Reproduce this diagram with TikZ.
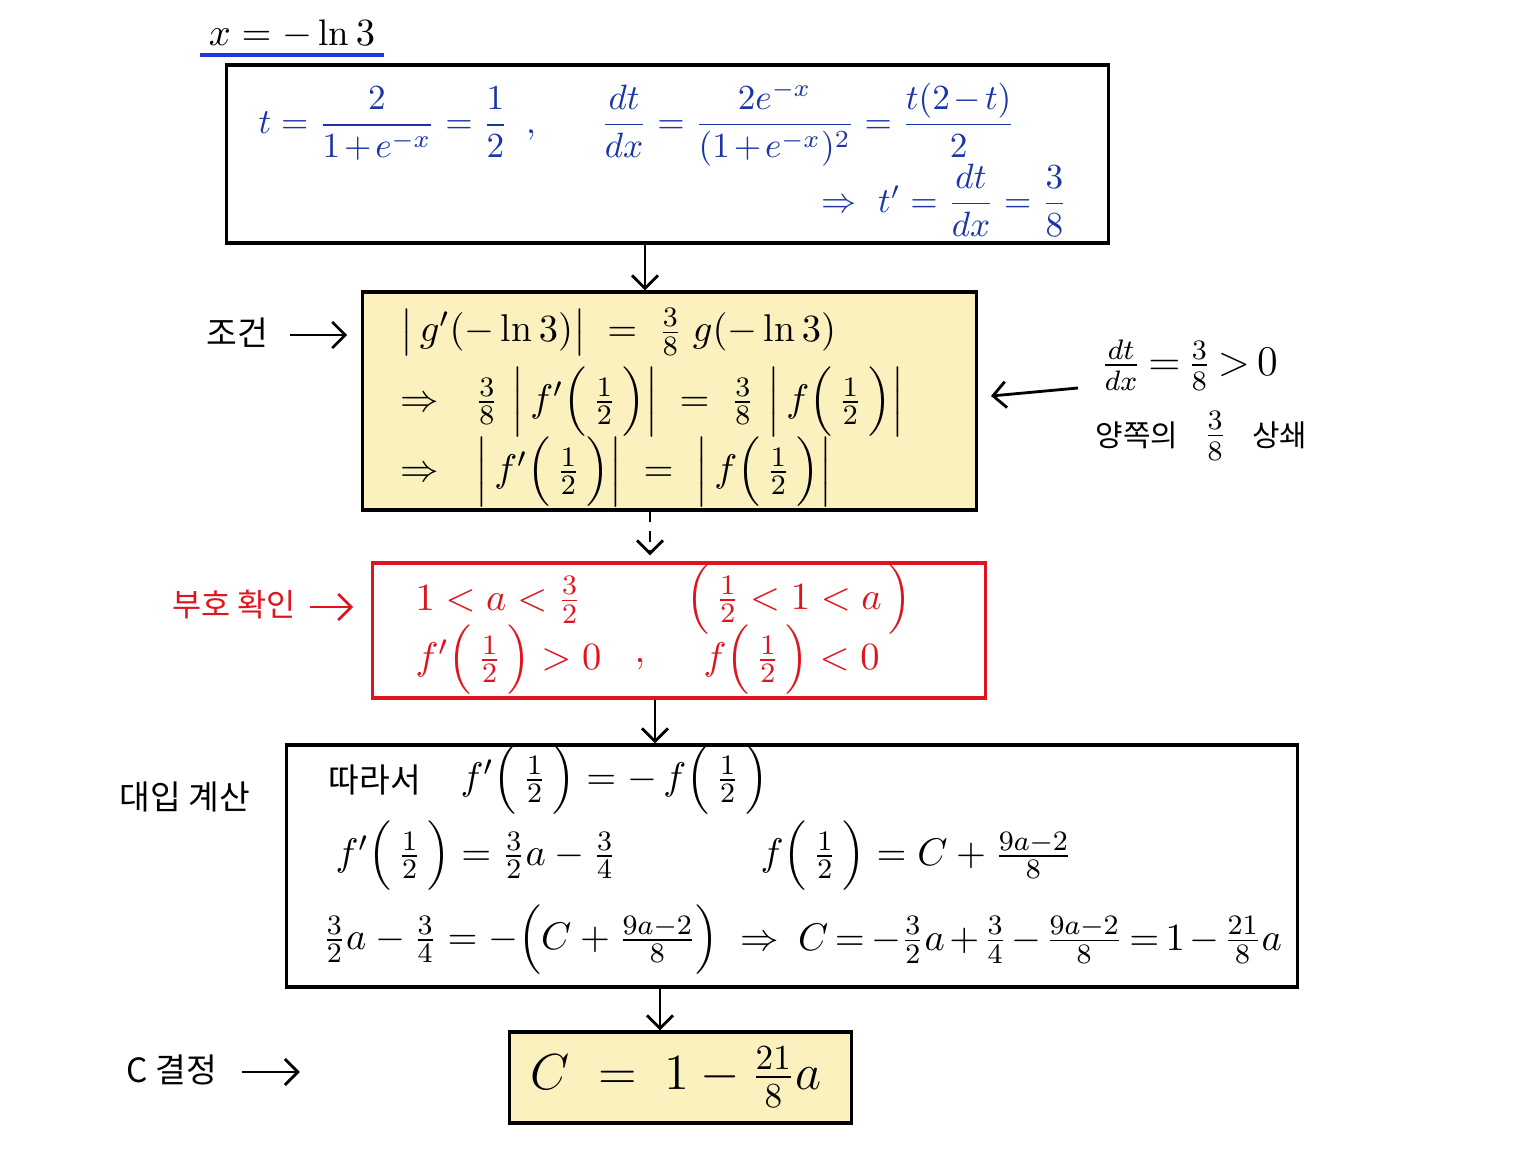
\documentclass[tikz,border=0pt]{standalone}
\usepackage{amsmath}
\usepackage{fontspec}
\newfontfamily\kr{Noto Sans CJK KR}
\usetikzlibrary{arrows.meta,calc}
\definecolor{inkblue}{HTML}{1A35A8}
\definecolor{ulblue}{HTML}{2236DD}
\definecolor{inkred}{HTML}{E0141E}
\definecolor{paleyellow}{HTML}{FBF1BE}
\newcommand{\fr}[2]{\tfrac{#1}{#2}}
\newcommand{\hf}{\Bigl(\,\tfrac{1}{2}\,\Bigr)}
\newcommand{\tight}{\medmuskip=2mu\thickmuskip=3mu\relax}
\begin{document}
\begin{tikzpicture}[x=0.01cm,y=-0.01cm,
  txt/.style={inner sep=0pt, font=\fontsize{11}{13}\selectfont},
  big/.style={inner sep=0pt, font=\fontsize{10}{12}\selectfont},
  lab/.style={inner sep=0pt, font=\fontsize{9.5}{11}\selectfont\kr},
  box/.style={draw=black, line width=0.9pt, fill=white, inner sep=0pt},
  ybox/.style={box, fill=paleyellow},
  rbox/.style={box, draw=inkred},
  arr/.style={-{Straight Barb[length=1.3mm,width=2.6mm]}, line width=0.8pt},
  darr/.style={arr, dash pattern=on 3pt off 2.5pt}]
\useasboundingbox (0,0) rectangle (1536,1152);

% boxes
\node[box, minimum width=8.81cm, minimum height=1.78cm] (box1) at (667.5,154) {};
\node[ybox, minimum width=6.13cm, minimum height=2.18cm] (box2) at (669.5,401) {};
\node[rbox, minimum width=6.12cm, minimum height=1.35cm] (box3) at (679,630.5) {};
\node[box, minimum width=10.10cm, minimum height=2.42cm] (box4) at (792,866) {};
\node[ybox, minimum width=3.41cm, minimum height=0.91cm] (box5) at (680.5,1077.5) {};

% title
\node[txt, font=\fontsize{10.5}{12}\selectfont] (title) at (292,34) {$x = -\ln 3$};
\draw[ulblue, line width=1.2pt] ($(title.south west)+(-8,6)$) -- ($(title.south east)+(8,6)$);

% box 1 (blue)
\begin{scope}[inkblue]
\node[big, anchor=west] (b1a) at (258,124) {$\medmuskip=2mu t = \dfrac{2}{1+e^{-x}} = \dfrac{1}{2}\ \,,$};
\node[big, anchor=west] (b1b) at (600,124) {$\medmuskip=2mu \dfrac{dt}{dx} = \dfrac{2e^{-x}}{(1+e^{-x})^{2}} = \dfrac{t(2-t)}{2}$};
\node[big, anchor=east] (b1c) at (1068,200) {$\Rightarrow\ t' = \dfrac{dt}{dx} = \dfrac{3}{8}$};
\end{scope}

% box 2
\node[txt, anchor=west] (b2a) at (400,332) {$\bigl|\,g'(-\ln 3)\bigr| \;=\; \fr{3}{8}\;g(-\ln 3)$};
\node[txt, anchor=west] (b2b) at (400,402) {$\Rightarrow\ \ \fr{3}{8}\ \Bigl|\,f'\hf\Bigr| \;=\; \fr{3}{8}\ \Bigl|\,f\hf\Bigr|$};
\node[txt, anchor=west] (b2c) at (400,472) {$\Rightarrow\ \ \Bigl|\,f'\hf\Bigr| \;=\; \Bigl|\,f\hf\Bigr|$};

% left label 1
\node[lab] (cond) at (237,333) {조건};
\draw[arr] ($(cond.east)+(22,2)$) -- ($(box2.west |- cond)+(-14,2)$);

% right annotation
\node[txt, font=\fontsize{12}{14}\selectfont, anchor=west] (r1) at (1100,365) {$\thickmuskip=3mu \fr{dt}{dx} = \fr{3}{8} > 0$};
\node[txt, anchor=west] (r2) at (1095,436) {{\kr\fontsize{8.5}{10}\selectfont 양쪽의}\ \ {\fontsize{12}{14}\selectfont$\fr{3}{8}$}\ \ {\kr\fontsize{8.5}{10}\selectfont 상쇄}};
\coordinate (rs) at (1078,388);
\coordinate (re) at (991,396);
\draw[arr] (rs) -- (re);

% box 3 (red)
\begin{scope}[inkred]
\node[txt, anchor=west] (b3a) at (415,600) {$1 < a < \fr{3}{2}$};
\node[txt, anchor=west] (b3b) at (686,600) {$\Bigl(\,\fr{1}{2} < 1 < a\,\Bigr)$};
\node[txt, anchor=west] (b3c) at (415,660) {$f'\hf > 0$};
\node[txt] (b3comma) at (640,664) {$,$};
\node[txt, anchor=west] (b3d) at (703,660) {$f\hf < 0$};
\node[lab, font=\fontsize{9}{11}\selectfont\kr] (sign) at (234,605) {부호 확인};
\draw[arr, inkred] ($(sign.east)+(14,2)$) -- ($(box3.west |- sign)+(-18,2)$);
\end{scope}

% box 4
\node[lab, anchor=west] (b4k) at (328,780) {따라서};
\node[txt, anchor=west] (b4a) at (460,780) {$f'\hf = -\,f\hf$};
\node[txt, anchor=west] (b4b) at (335,856) {$f'\hf = \fr{3}{2}a - \fr{3}{4}$};
\node[txt, anchor=west] (b4c) at (760,856) {$f\hf = C + \fr{9a-2}{8}$};
\node[txt, anchor=west] (b4d) at (322,940) {$\fr{3}{2}a - \fr{3}{4} = -\Bigl(C + \fr{9a-2}{8}\Bigr)$};
\node[txt, anchor=west] (b4e) at (740,940) {$\tight\Rightarrow\ C = -\fr{3}{2}a + \fr{3}{4} - \fr{9a-2}{8} = 1 - \fr{21}{8}a$};
\node[lab] (subst) at (185,797) {대입 계산};

% box 5
\node[inner sep=0pt, font=\fontsize{14.4}{17}\selectfont] (b5) at (676,1077) {$C \;=\; 1 - \fr{21}{8}a$};
\node[lab] (det) at (172,1070) {C 결정};
\draw[arr] ($(det.east)+(24,2)$) -- ($(det.east)+(82,2)$);

% flow arrows
\coordinate (c1) at (645,0);
\coordinate (c2) at (650,0);
\coordinate (c3) at (655,0);
\coordinate (c4) at (660,0);
\draw[arr] (box1.south -| c1) -- (box2.north -| c1);
\draw[darr] (box2.south -| c2) -- ($(box3.north -| c2)+(0,-6)$);
\draw[arr] (box3.south -| c3) -- (box4.north -| c3);
\draw[arr] (box4.south -| c4) -- (box5.north -| c4);
\end{tikzpicture}
\end{document}
